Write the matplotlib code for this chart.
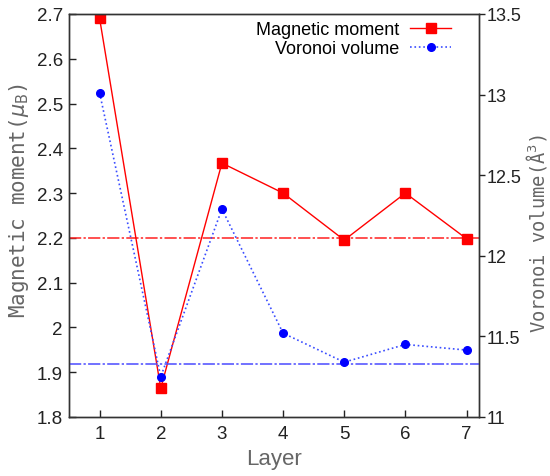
import matplotlib.pyplot as plt

plt.rcParams['font.family'] = ['Liberation Sans', 'DejaVu Sans']
plt.rcParams['mathtext.fontset'] = 'dejavusans'

layers = [1, 2, 3, 4, 5, 6, 7]
moment = [2.69, 1.864, 2.367, 2.30, 2.195, 2.30, 2.198]
volume = [13.01, 11.25, 12.29, 11.52, 11.34, 11.45, 11.415]
moment_ref = 2.2
volume_ref = 11.33

fig = plt.figure(figsize=(5.5, 4.77), dpi=100)
ax = fig.add_axes([0.1255, 0.1237, 0.745, 0.845])
ax2 = ax.twinx()

ax.axhline(moment_ref, color='#ff2020', lw=1.1, dashes=[8, 1.5, 1.5, 1.5])
ax2.axhline(volume_ref, color='#4a4aff', lw=1.1, dashes=[8, 1.5, 1.5, 1.5])

l1, = ax.plot(layers, moment, '-', color='#ff0000', lw=1, marker='s',
              ms=7, mfc='#ff0000', mec='#ff0000', label='Magnetic moment')
l2, = ax2.plot(layers, volume, ':', color='#3a4dff', lw=1.2, marker='o',
               ms=5.5, mfc='#0000ff', mec='#0000ff', label='Voronoi volume')

ax.set_xlim(0.5, 7.2)
ax.set_ylim(1.8, 2.7)
ax2.set_ylim(11, 13.5)
ax.set_xticks(layers)
ax.set_yticks([1.8, 1.9, 2.0, 2.1, 2.2, 2.3, 2.4, 2.5, 2.6, 2.7])
ax.set_yticklabels(['1.8', '1.9', '2', '2.1', '2.2', '2.3', '2.4', '2.5', '2.6', '2.7'])
ax2.set_yticks([11, 11.5, 12, 12.5, 13, 13.5])
ax2.set_yticklabels(['11', '11.5', '12', '12.5', '13', '13.5'])

ax.tick_params(axis='x', direction='in', length=5, width=1, labelsize=13.5,
               colors='#222222', pad=6)
ax.tick_params(axis='y', direction='in', length=5, width=1, labelsize=13.5,
               colors='#222222', pad=4.5, right=False)
ax2.tick_params(axis='y', direction='out', length=4, width=1, labelsize=13,
                colors='#222222', pad=2)

for a in (ax, ax2):
    for s in a.spines.values():
        s.set_color('#333333')
        s.set_linewidth(1)

mono = 'DejaVu Sans Mono'
ax.set_xlabel('Layer', fontsize=16, color='#666666', labelpad=4)
ax.set_ylabel(r'Magnetic moment($\mu_\mathrm{B}$)', family=mono, fontsize=15,
              color='#666666')
ax.yaxis.set_label_coords(-0.092, 0.541)
ax2.set_ylabel(r'Voronoi volume(Å$^3$)', family=mono, fontsize=13.5,
               color='#666666')
ax2.yaxis.set_label_coords(1.11, 0.457)

ax2.legend([l1, l2], ['Magnetic moment', 'Voronoi volume'], loc='upper right',
           bbox_to_anchor=(0.951, 1.0), frameon=False, markerfirst=False,
           fontsize=13, handlelength=2.3, labelspacing=0.1, borderaxespad=0,
           handletextpad=0.6)

fig.savefig('out.png', dpi=100)
